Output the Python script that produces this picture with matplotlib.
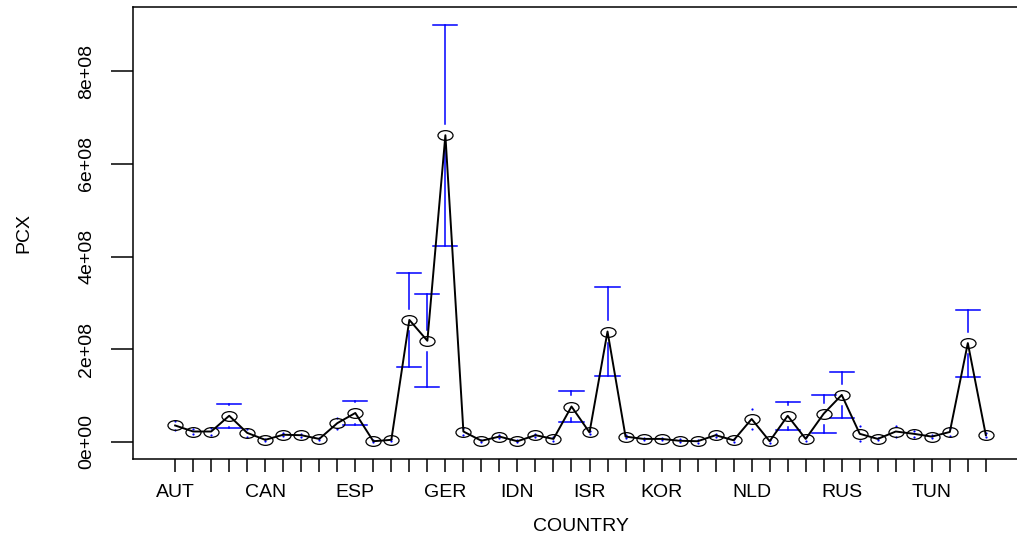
import matplotlib
matplotlib.use("Agg")
import matplotlib.pyplot as plt
from matplotlib.markers import MarkerStyle
from matplotlib.transforms import Affine2D

plt.rcParams['font.family'] = ['Liberation Sans', 'DejaVu Sans']

countries = ["AUT", "BEL", "BGR", "BRA", "BWA", "CAN", "CHE", "CHL", "CHN", "DNK",
             "ESP", "EST", "FIN", "FRA", "GBR", "GER", "GRC", "HKG", "HUN", "IDN",
             "IND", "IRL", "IRN", "ISR", "ITA", "JOR", "JPN", "KOR", "LTU", "MEX",
             "MYS", "NGA", "NLD", "NOR", "NZL", "POL", "PRT", "RUS", "SGP", "SVK",
             "SWE", "THA", "TUN", "TUR", "USA", "ZAF"]
# labels R managed to print without overlap
shown = ["AUT", "CAN", "ESP", "GER", "IDN", "ISR", "KOR", "NLD", "RUS", "TUN"]

# mean PCX per country (units of 1e8)
means = [0.35, 0.22, 0.22, 0.56, 0.19, 0.04, 0.15, 0.14, 0.06, 0.40,
         0.62, 0.01, 0.04, 2.63, 2.18, 6.62, 0.22, 0.02, 0.11, 0.01,
         0.14, 0.06, 0.76, 0.20, 2.38, 0.11, 0.06, 0.06, 0.02, 0.01,
         0.14, 0.03, 0.49, 0.01, 0.56, 0.06, 0.605, 1.01, 0.17, 0.06,
         0.22, 0.17, 0.11, 0.21, 2.13, 0.14]
# half width of the 95% CI (units of 1e8)
ci_half = [0.10, 0.05, 0.08, 0.26, 0.08, 0.02, 0.03, 0.03, 0.03, 0.12,
           0.265, 0.02, 0.02, 1.01, 1.00, 2.39, 0.08, 0.02, 0.03, 0.02,
           0.03, 0.04, 0.34, 0.04, 0.97, 0.04, 0.03, 0.03, 0.03, 0.03,
           0.03, 0.03, 0.22, 0.03, 0.305, 0.04, 0.41, 0.50, 0.16, 0.03,
           0.12, 0.06, 0.04, 0.09, 0.725, 0.04]

scale = 1e8
gap = 0.24 * scale
cap = 0.67
x = list(range(len(countries)))
m = [v * scale for v in means]
h = [v * scale for v in ci_half]

fig = plt.figure(figsize=(10.17, 5.42), dpi=100)
ax = fig.add_axes([133 / 1017, 83 / 542, 895 / 1017, 452 / 542])

for xi, yi, hi in zip(x, m, h):
    if hi > gap:
        ax.plot([xi, xi], [yi + gap, yi + hi], color='blue', lw=1.1)
        ax.plot([xi, xi], [yi - hi, yi - gap], color='blue', lw=1.1)
        ax.plot([xi - cap, xi + cap], [yi + hi, yi + hi], color='blue', lw=1.1)
        ax.plot([xi - cap, xi + cap], [yi - hi, yi - hi], color='blue', lw=1.1)
    else:
        ax.plot([xi, xi], [yi + hi, yi - hi], ls='none', marker='o',
                ms=1.6, color='blue', mec='none')

ell = MarkerStyle('o', transform=Affine2D().scale(1.55, 1.0))
ax.plot(x, m, color='black', lw=1.4, marker=ell, ms=7,
        mfc='none', mec='black', mew=0.9)

n = len(countries)
ax.set_xlim(-0.5 - 0.04 * n, n - 0.5 + 0.04 * n)
ax.set_ylim(-0.374e8, 9.39e8)

ax.set_xticks(x)
ax.set_xticklabels([c if c in shown else '' for c in countries])
yt = [0, 2e8, 4e8, 6e8, 8e8]
ax.set_yticks(yt)
ax.set_yticklabels(["0e+00", "2e+08", "4e+08", "6e+08", "8e+08"],
                   rotation=90, va='center')

ax.tick_params(axis='x', length=9, width=1.1, pad=9, labelsize=14)
ax.tick_params(axis='y', length=16, width=1.1, pad=11, labelsize=14)
for s in ax.spines.values():
    s.set_linewidth(1.1)

ax.set_xlabel('COUNTRY', fontsize=14, labelpad=12)
ax.set_ylabel('PCX', fontsize=14, labelpad=33)

fig.savefig('out.png', dpi=100)
